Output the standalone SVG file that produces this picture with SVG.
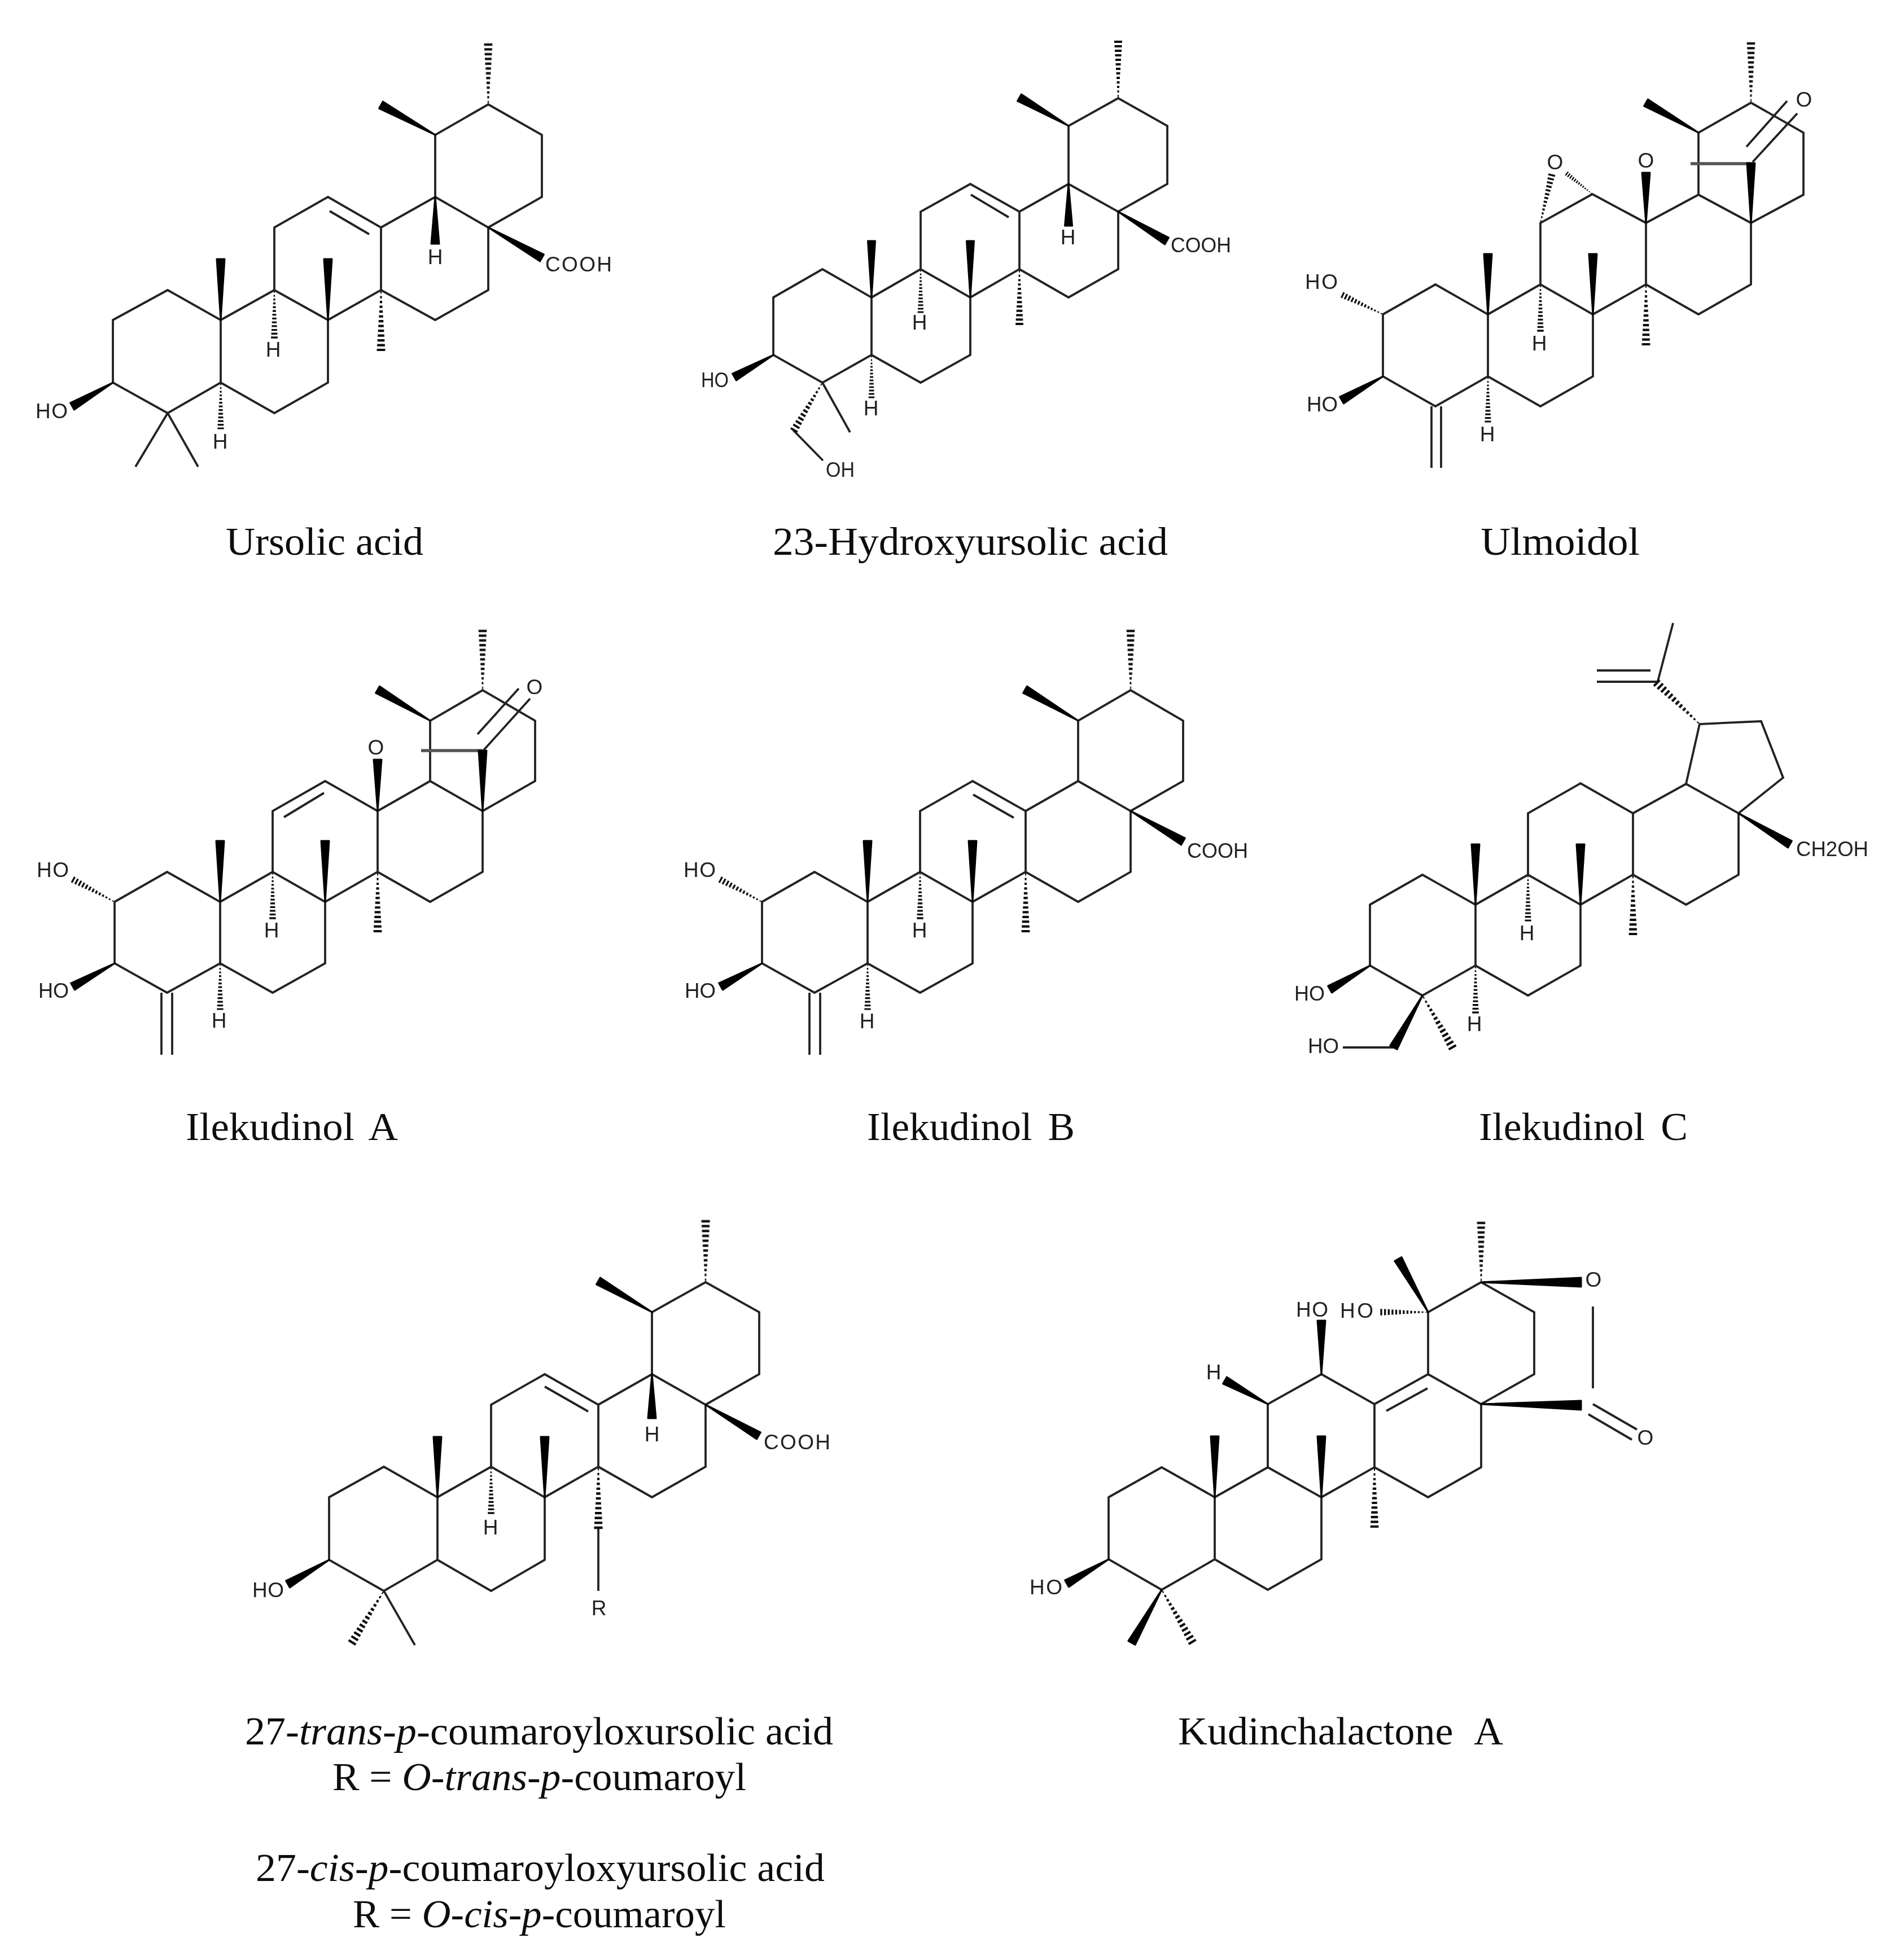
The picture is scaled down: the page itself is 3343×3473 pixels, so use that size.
<svg xmlns="http://www.w3.org/2000/svg" width="3343" height="3473" viewBox="0 0 3343 3473">
<style>
.b{fill:none;stroke:#222;stroke-width:3.8;stroke-linejoin:miter;stroke-linecap:butt}
.g{fill:none;stroke:#555;stroke-width:5.5}
.w{fill:#000;stroke:#000;stroke-width:3;stroke-linejoin:round}
.h{fill:none;stroke:#111;stroke-width:4}
.l{font-family:"Liberation Sans",Arial,sans-serif;font-size:37px;fill:#222}
.m{text-anchor:middle}
.c{font-family:"Liberation Serif","Times New Roman",serif;font-size:70px;fill:#111}
.i{font-style:italic}
.s{filter:url(#soft)}
</style>
<defs>
<filter id="soft" x="-2%" y="-2%" width="104%" height="104%"><feGaussianBlur stdDeviation="0.7"/></filter>
<path id="h" class="h" d="M4 -1V1M12 -1.5V1.5M20 -2V2M28 -2.5V2.5M36 -3V3M44 -3.5V3.5M52 -4V4M60 -4.5V4.5M68 -5V5M76 -5.5V5.5M84 -6V6M92 -6.5V6.5M100 -7V7"/>
</defs>
<rect width="3343" height="3473" fill="#fff"/>

<g id="ursolic-acid" class="s">
<path class="b" d="M200 567L297 514L391 567L391 678L297 732L200 678ZM391 567L486 514L581 567L581 678L486 732L391 678M486 514L486 403L581 349L675 403L675 514L581 567M675 514L771 567L865 514L865 403L771 349L675 403M771 349L771 239L865 185L960 239L960 349L865 403M584 374L654 415M297 732L240 827M297 732L351 827"/>
<polygon class="w" points="391,567 384,459 398,459"/>
<polygon class="w" points="581,567 574,459 588,459"/>
<polygon class="w" points="771,349 764,432 778,432"/>
<polygon class="w" points="865,403 963.4,450.9 956.6,463.1"/>
<polygon class="w" points="771,239 678.4,179.9 671.6,192.1"/>
<polygon class="w" points="200,678 131.4,726.1 124.6,713.9"/>
<use href="#h" transform="translate(486,514) rotate(90) scale(.84)"/>
<use href="#h" transform="translate(675,514) rotate(90) scale(1.06)"/>
<use href="#h" transform="translate(391,678) rotate(90) scale(.81)"/>
<use href="#h" transform="translate(865,185) rotate(-90) scale(1.06)"/>
<text class="l m" x="771" y="468">H</text>
<text class="l m" x="484" y="632">H</text>
<text class="l m" x="390" y="795">H</text>
<text class="l" x="966" y="481" textLength="118">COOH</text>
<text class="l" x="63" y="741" textLength="57">HO</text>
<text class="c" x="400" y="983" textLength="350" lengthAdjust="spacingAndGlyphs">Ursolic acid</text>
</g>

<g id="hydroxyursolic-acid" class="s">
<path class="b" d="M1370 527L1457 477L1544 527L1544 629L1457 678L1370 629ZM1544 527L1631 477L1719 527L1719 629L1631 678L1544 629M1631 477L1631 375L1719 326L1806 375L1806 477L1719 527M1806 477L1893 527L1981 477L1981 375L1893 326L1806 375M1893 326L1893 223L1981 174L2068 223L2068 326L1981 375M1720 345L1787 385M1457 678L1506 766M1405 762L1458 816"/>
<polygon class="w" points="1544,527 1537.5,427 1550.5,427"/>
<polygon class="w" points="1719,527 1712.5,427 1725.5,427"/>
<polygon class="w" points="1893,326 1886.5,400 1899.5,400"/>
<polygon class="w" points="1981,375 2070.4,421 2063.6,433"/>
<polygon class="w" points="1893,223 1809.4,167 1802.6,179"/>
<polygon class="w" points="1370,629 1304.4,674 1297.6,662"/>
<use href="#h" transform="translate(1631,477) rotate(90) scale(.76)"/>
<use href="#h" transform="translate(1806,477) rotate(90) scale(.97)"/>
<use href="#h" transform="translate(1544,629) rotate(90) scale(.75)"/>
<use href="#h" transform="translate(1981,174) rotate(-90) scale(1)"/>
<use href="#h" transform="translate(1457,678) rotate(120.8) scale(.98)"/>
<text class="l m" x="1892" y="433">H</text>
<text class="l m" x="1629" y="584">H</text>
<text class="l m" x="1543" y="736">H</text>
<text class="l" x="2074" y="447" textLength="107" lengthAdjust="spacingAndGlyphs">COOH</text>
<text class="l" x="1242" y="686" textLength="49" lengthAdjust="spacingAndGlyphs">HO</text>
<text class="l" x="1463" y="845" textLength="51" lengthAdjust="spacingAndGlyphs">OH</text>
<text class="c" x="1369" y="983" textLength="700" lengthAdjust="spacingAndGlyphs">23-Hydroxyursolic acid</text>
</g>

<g id="ulmoidol" class="s">
<path class="b" d="M2450 557L2543 504L2636 557L2636 667L2543 720L2450 667ZM2636 557L2729 504L2822 557L2822 667L2729 720L2636 667M2729 504L2729 395L2821 344L2916 395L2916 504L2822 557M2916 504L3009 557L3102 504L3102 395L3009 345L2916 395M3009 345L3009 235L3102 182L3195 235L3195 345L3102 395M2536 720L2536 829M2553 720L2553 829M3105 287L3184 201M3094 260L3166 179"/>
<path class="g" d="M2995 290L3102 290"/>
<polygon class="w" points="2636,557 2629,450 2643,450"/>
<polygon class="w" points="2822,557 2815,450 2829,450"/>
<polygon class="w" points="2916,395 2909,306 2923,306"/>
<polygon class="w" points="3102,395 3095,289 3109,289"/>
<polygon class="w" points="3009,235 2919.4,176 2912.6,188"/>
<polygon class="w" points="2450,667 2380.4,715 2373.6,703"/>
<use href="#h" transform="translate(2729,395) rotate(-76.8) scale(.87)"/>
<use href="#h" transform="translate(2821,344) rotate(-141.3) scale(.58)"/>
<use href="#h" transform="translate(2729,504) rotate(90) scale(.82)"/>
<use href="#h" transform="translate(2916,504) rotate(90) scale(1.06)"/>
<use href="#h" transform="translate(2636,667) rotate(90) scale(.8)"/>
<use href="#h" transform="translate(3102,182) rotate(-90) scale(1.05)"/>
<use href="#h" transform="translate(2450,557) rotate(-154.4) scale(.79)"/>
<text class="l m" x="2755" y="300">O</text>
<text class="l m" x="2916" y="297">O</text>
<text class="l m" x="3196" y="189">O</text>
<text class="l m" x="2727" y="621">H</text>
<text class="l m" x="2635" y="782">H</text>
<text class="l" x="2312" y="512" textLength="58">HO</text>
<text class="l" x="2315" y="729" textLength="55" lengthAdjust="spacingAndGlyphs">HO</text>
<text class="c" x="2623" y="983" textLength="282" lengthAdjust="spacingAndGlyphs">Ulmoidol</text>
</g>

<g id="ilekudinol-a" class="s">
<path class="b" d="M203 1598L296 1545L390 1598L390 1707L296 1759L203 1707ZM390 1598L483 1545L576 1598L576 1707L483 1759L390 1707M483 1545L483 1437L576 1384L669 1437L669 1545L576 1598M669 1545L762 1598L855 1545L855 1437L762 1384L669 1437M762 1384L762 1277L855 1223L948 1277L948 1384L855 1437M503 1448L574 1405M286 1759L286 1869M305 1759L305 1869M857 1329L939 1238M846 1301L919 1220"/>
<path class="g" d="M746 1330L855 1330"/>
<polygon class="w" points="390,1598 383,1490 397,1490"/>
<polygon class="w" points="576,1598 569,1490 583,1490"/>
<polygon class="w" points="669,1437 662,1346 676,1346"/>
<polygon class="w" points="855,1437 848,1330 862,1330"/>
<polygon class="w" points="762,1277 672.4,1216 665.6,1228"/>
<polygon class="w" points="203,1707 132.4,1754 125.6,1742"/>
<use href="#h" transform="translate(483,1545) rotate(90) scale(.82)"/>
<use href="#h" transform="translate(669,1545) rotate(90) scale(1.05)"/>
<use href="#h" transform="translate(390,1707) rotate(90) scale(.81)"/>
<use href="#h" transform="translate(855,1223) rotate(-90) scale(1.05)"/>
<use href="#h" transform="translate(203,1598) rotate(-151.9) scale(.83)"/>
<text class="l m" x="666" y="1337">O</text>
<text class="l m" x="947" y="1230">O</text>
<text class="l m" x="481" y="1661">H</text>
<text class="l m" x="388" y="1821">H</text>
<text class="l" x="65" y="1554" textLength="57">HO</text>
<text class="l" x="68" y="1768" textLength="54" lengthAdjust="spacingAndGlyphs">HO</text>
<text class="c" x="329" y="2020" textLength="376" lengthAdjust="spacingAndGlyphs" word-spacing="10">Ilekudinol A</text>
</g>

<g id="ilekudinol-b" class="s">
<path class="b" d="M1350 1598L1443 1545L1537 1598L1537 1707L1443 1759L1350 1707ZM1537 1598L1630 1545L1723 1598L1723 1707L1630 1759L1537 1707M1630 1545L1630 1437L1723 1384L1817 1437L1817 1545L1723 1598M1817 1545L1910 1598L2003 1545L2003 1437L1910 1384L1817 1437M1910 1384L1910 1277L2003 1223L2096 1277L2096 1384L2003 1437M1724 1408L1796 1449M1434 1759L1434 1869M1453 1759L1453 1869"/>
<polygon class="w" points="1537,1598 1530,1490 1544,1490"/>
<polygon class="w" points="1723,1598 1716,1490 1730,1490"/>
<polygon class="w" points="2003,1437 2099.4,1485 2092.6,1497"/>
<polygon class="w" points="1910,1277 1819.4,1216 1812.6,1228"/>
<polygon class="w" points="1350,1707 1280.4,1754 1273.6,1742"/>
<use href="#h" transform="translate(1630,1545) rotate(90) scale(.82)"/>
<use href="#h" transform="translate(1817,1545) rotate(90) scale(1.05)"/>
<use href="#h" transform="translate(1537,1707) rotate(90) scale(.81)"/>
<use href="#h" transform="translate(2003,1223) rotate(-90) scale(1.05)"/>
<use href="#h" transform="translate(1350,1598) rotate(-151.9) scale(.83)"/>
<text class="l m" x="1629" y="1661">H</text>
<text class="l m" x="1536" y="1822">H</text>
<text class="l" x="2103" y="1520" textLength="108" lengthAdjust="spacingAndGlyphs">COOH</text>
<text class="l" x="1211" y="1554" textLength="57">HO</text>
<text class="l" x="1213" y="1768" textLength="55" lengthAdjust="spacingAndGlyphs">HO</text>
<text class="c" x="1536" y="2020" textLength="368" lengthAdjust="spacingAndGlyphs" word-spacing="10">Ilekudinol B</text>
</g>

<g id="ilekudinol-c" class="s">
<path class="b" d="M2427 1603L2520 1550L2614 1603L2614 1711L2520 1764L2427 1711ZM2614 1603L2707 1550L2800 1603L2800 1711L2707 1764L2614 1711M2707 1550L2707 1441L2800 1388L2893 1441L2893 1550L2800 1603M2893 1550L2987 1603L3080 1550L3080 1441L2987 1389L2893 1441M2987 1389L3011 1283L3120 1278L3159 1378L3080 1441M2937 1207L2964 1104M2937 1208L2829 1208M2924 1188L2829 1188M2469 1856L2379 1856"/>
<polygon class="w" points="2614,1603 2607,1496 2621,1496"/>
<polygon class="w" points="2800,1603 2793,1496 2807,1496"/>
<polygon class="w" points="3080,1441 3174.4,1490 3167.6,1502"/>
<polygon class="w" points="2427,1711 2359.4,1759 2352.6,1747"/>
<polygon class="w" points="2520,1764 2475.1,1859.4 2462.9,1852.6"/>
<use href="#h" transform="translate(3011,1283) rotate(-136.2) scale(1.05)"/>
<use href="#h" transform="translate(2707,1550) rotate(90) scale(.81)"/>
<use href="#h" transform="translate(2893,1550) rotate(90) scale(1.05)"/>
<use href="#h" transform="translate(2614,1711) rotate(90) scale(.83)"/>
<use href="#h" transform="translate(2520,1764) rotate(60) scale(1.06)"/>
<text class="l m" x="2705" y="1666">H</text>
<text class="l m" x="2612" y="1827">H</text>
<text class="l" x="3182" y="1517" textLength="128" lengthAdjust="spacingAndGlyphs">CH2OH</text>
<text class="l" x="2293" y="1773" textLength="54" lengthAdjust="spacingAndGlyphs">HO</text>
<text class="l" x="2317" y="1866" textLength="55" lengthAdjust="spacingAndGlyphs">HO</text>
<text class="c" x="2620" y="2020" textLength="370" lengthAdjust="spacingAndGlyphs" word-spacing="10">Ilekudinol C</text>
</g>

<g id="coumaroyloxyursolic-acids" class="s">
<path class="b" d="M583 2653L680 2599L775 2653L775 2764L680 2819L583 2764ZM775 2653L870 2599L965 2653L965 2764L870 2819L775 2764M870 2599L870 2489L965 2435L1060 2489L1060 2599L965 2653M1060 2599L1155 2653L1250 2599L1250 2489L1155 2435L1060 2489M1155 2435L1155 2325L1250 2272L1345 2325L1345 2435L1250 2489M965 2457L1042 2501M1060 2707L1060 2819M680 2819L735 2915"/>
<polygon class="w" points="775,2653 768,2546 782,2546"/>
<polygon class="w" points="965,2653 958,2546 972,2546"/>
<polygon class="w" points="1155,2435 1148,2513 1162,2513"/>
<polygon class="w" points="1155,2325 1063.4,2264 1056.6,2276"/>
<polygon class="w" points="1250,2489 1347.4,2538 1340.6,2550"/>
<polygon class="w" points="583,2764 513.4,2813 506.6,2801"/>
<use href="#h" transform="translate(1250,2272) rotate(-90) scale(1.08)"/>
<use href="#h" transform="translate(870,2599) rotate(90) scale(.82)"/>
<use href="#h" transform="translate(1060,2599) rotate(90) scale(1.08)"/>
<use href="#h" transform="translate(680,2819) rotate(121.6) scale(1.07)"/>
<text class="l m" x="1155" y="2554">H</text>
<text class="l m" x="869" y="2719">H</text>
<text class="l m" x="1061" y="2862">R</text>
<text class="l" x="1353" y="2568" textLength="118">COOH</text>
<text class="l" x="447" y="2830" textLength="56">HO</text>
<text class="c" x="434" y="3091" textLength="1042" lengthAdjust="spacingAndGlyphs">27-<tspan class="i">trans-p-</tspan>coumaroyloxursolic acid</text>
<text class="c" x="589" y="3172" textLength="733" lengthAdjust="spacingAndGlyphs">R = <tspan class="i">O-trans-p-</tspan>coumaroyl</text>
<text class="c" x="453" y="3333" textLength="1008" lengthAdjust="spacingAndGlyphs">27-<tspan class="i">cis-p-</tspan>coumaroyloxyursolic acid</text>
<text class="c" x="625" y="3415" textLength="661" lengthAdjust="spacingAndGlyphs">R = <tspan class="i">O-cis-p-</tspan>coumaroyl</text>
</g>

<g id="kudinchalactone-a" class="s">
<path class="b" d="M1964 2653L2058 2600L2152 2653L2152 2763L2058 2817L1964 2763ZM2152 2653L2246 2600L2341 2653L2341 2763L2246 2817L2152 2763M2246 2600L2246 2488L2341 2435L2435 2488L2435 2600L2341 2653M2435 2600L2530 2653L2624 2600L2624 2488L2530 2435L2435 2488M2530 2435L2530 2325L2624 2272L2718 2325L2718 2435L2624 2488M2456 2500L2529 2460M2822 2315L2822 2460M2822 2488L2900 2533M2814 2506L2891 2551"/>
<polygon class="w" points="2152,2653 2145,2545 2159,2545"/>
<polygon class="w" points="2341,2653 2334,2545 2348,2545"/>
<polygon class="w" points="2341,2435 2334,2340 2348,2340"/>
<polygon class="w" points="2530,2325 2483.1,2227.6 2470.9,2234.4"/>
<polygon class="w" points="2624,2272 2801,2264 2801,2280"/>
<polygon class="w" points="2624,2488 2801,2482 2801,2498"/>
<polygon class="w" points="2246,2488 2173.4,2440 2166.6,2452"/>
<polygon class="w" points="1964,2763 1893.4,2812 1886.6,2800"/>
<polygon class="w" points="2058,2817 2011.1,2914.4 1998.9,2907.6"/>
<use href="#h" transform="translate(2530,2325) rotate(180) scale(.83)"/>
<use href="#h" transform="translate(2624,2272) rotate(-90) scale(1.05)"/>
<use href="#h" transform="translate(2435,2600) rotate(90) scale(1.05)"/>
<use href="#h" transform="translate(2058,2817) rotate(59.6) scale(1.07)"/>
<text class="l m" x="2823" y="2280">O</text>
<text class="l m" x="2915" y="2560">O</text>
<text class="l m" x="2150" y="2444">H</text>
<text class="l" x="2374" y="2335" textLength="59">HO</text>
<text class="l" x="2296" y="2333" textLength="57">HO</text>
<text class="l" x="1824" y="2825" textLength="58">HO</text>
<text class="c" x="2087" y="3091" textLength="576" lengthAdjust="spacingAndGlyphs" word-spacing="22">Kudinchalactone A</text>
</g>
</svg>
